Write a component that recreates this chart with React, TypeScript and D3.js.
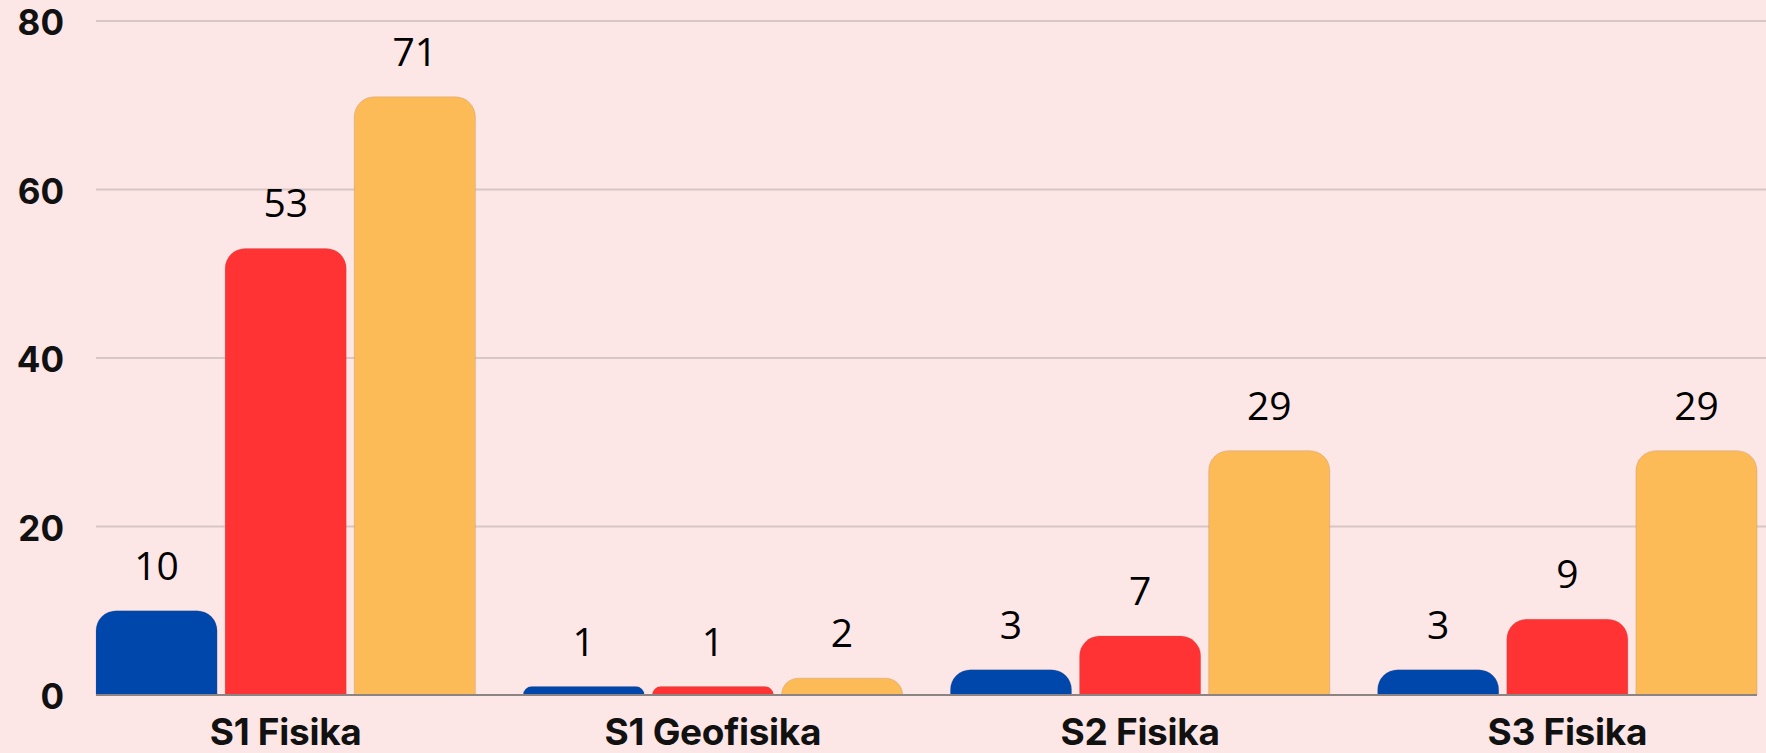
import React from "react";
import * as d3 from "d3";

// program studi
const categories = ["S1 Fisika", "S1 Geofisika", "S2 Fisika", "S3 Fisika"];
// three series per category (blue, red, orange)
const seriesKeys = ["a", "b", "c"];
const seriesA = [10, 1, 3, 3];
const seriesB = [53, 1, 7, 9];
const seriesC = [71, 2, 29, 29];
const yTicks = [0, 20, 40, 60, 80];

const colors = ["#0047ab", "#ff3333", "#fdbb57"];

const W = 1766;
const H = 753;
const margin = { top: 21, right: 9, bottom: 58, left: 96 };

const topRounded = (x: number, y: number, w: number, h: number, rad: number) => {
  const r = Math.min(rad, h, w / 2);
  const p = d3.path();
  p.moveTo(x, y + h);
  p.lineTo(x, y + r);
  p.arcTo(x, y, x + r, y, r);
  p.lineTo(x + w - r, y);
  p.arcTo(x + w, y, x + w, y + r, r);
  p.lineTo(x + w, y + h);
  p.closePath();
  return p.toString();
};

const App = () => {
  const values = [seriesA, seriesB, seriesC];

  const x0 = d3.scaleBand()
    .domain(categories)
    .range([margin.left, W - margin.right])
    .paddingInner(0.112)
    .paddingOuter(0);

  const x1 = d3.scaleBand()
    .domain(seriesKeys)
    .range([0, x0.bandwidth()])
    .paddingInner(0.062);

  const y = d3.scaleLinear()
    .domain([0, 80])
    .range([H - margin.bottom, margin.top]);

  const axisFont = "Inter, 'DejaVu Sans', sans-serif";
  const labelFont = "'Open Sans', 'Noto Sans', sans-serif";

  return (
    <svg
      width={W}
      height={H}
      style={{ position: "fixed", top: 0, left: 0, background: "#fde6e6" }}
    >
      <rect width={W} height={H} fill="#fde6e6" />
      {yTicks.filter(t => t > 0).map(t => (
        <line
          key={"g" + t}
          x1={margin.left}
          x2={W}
          y1={y(t)}
          y2={y(t)}
          stroke="#d9c6c6"
          strokeWidth={2}
        />
      ))}
      {yTicks.map(t => (
        <text
          key={"t" + t}
          x={64}
          y={y(t) + 14}
          textAnchor="end"
          fontFamily={axisFont}
          fontWeight={700}
          fontSize={35}
          fill="#111"
        >
          {t}
        </text>
      ))}
      {categories.map((c, i) => (
        <g key={c}>
          {seriesKeys.map((k, j) => {
            const v = values[j][i];
            const bx = (x0(c) as number) + (x1(k) as number);
            const by = y(v);
            const bh = y(0) - by;
            return (
              <g key={k}>
                <path
                  d={topRounded(bx, by, x1.bandwidth(), bh, 20)}
                  fill={colors[j]}
                  stroke="rgba(120,90,90,0.18)"
                  strokeWidth={1}
                />
                <text
                  x={bx + x1.bandwidth() / 2}
                  y={by - 31}
                  textAnchor="middle"
                  fontFamily={labelFont}
                  fontSize={39}
                  fill="#000"
                >
                  {v}
                </text>
              </g>
            );
          })}
          <text
            x={(x0(c) as number) + x0.bandwidth() / 2}
            y={745}
            textAnchor="middle"
            fontFamily={axisFont}
            fontWeight={700}
            fontSize={37}
            letterSpacing={-0.3}
            fill="#111"
          >
            {c}
          </text>
        </g>
      ))}
      <line
        x1={margin.left}
        x2={W - margin.right}
        y1={y(0)}
        y2={y(0)}
        stroke="#8c8383"
        strokeWidth={2}
      />
    </svg>
  );
};

export default App;
